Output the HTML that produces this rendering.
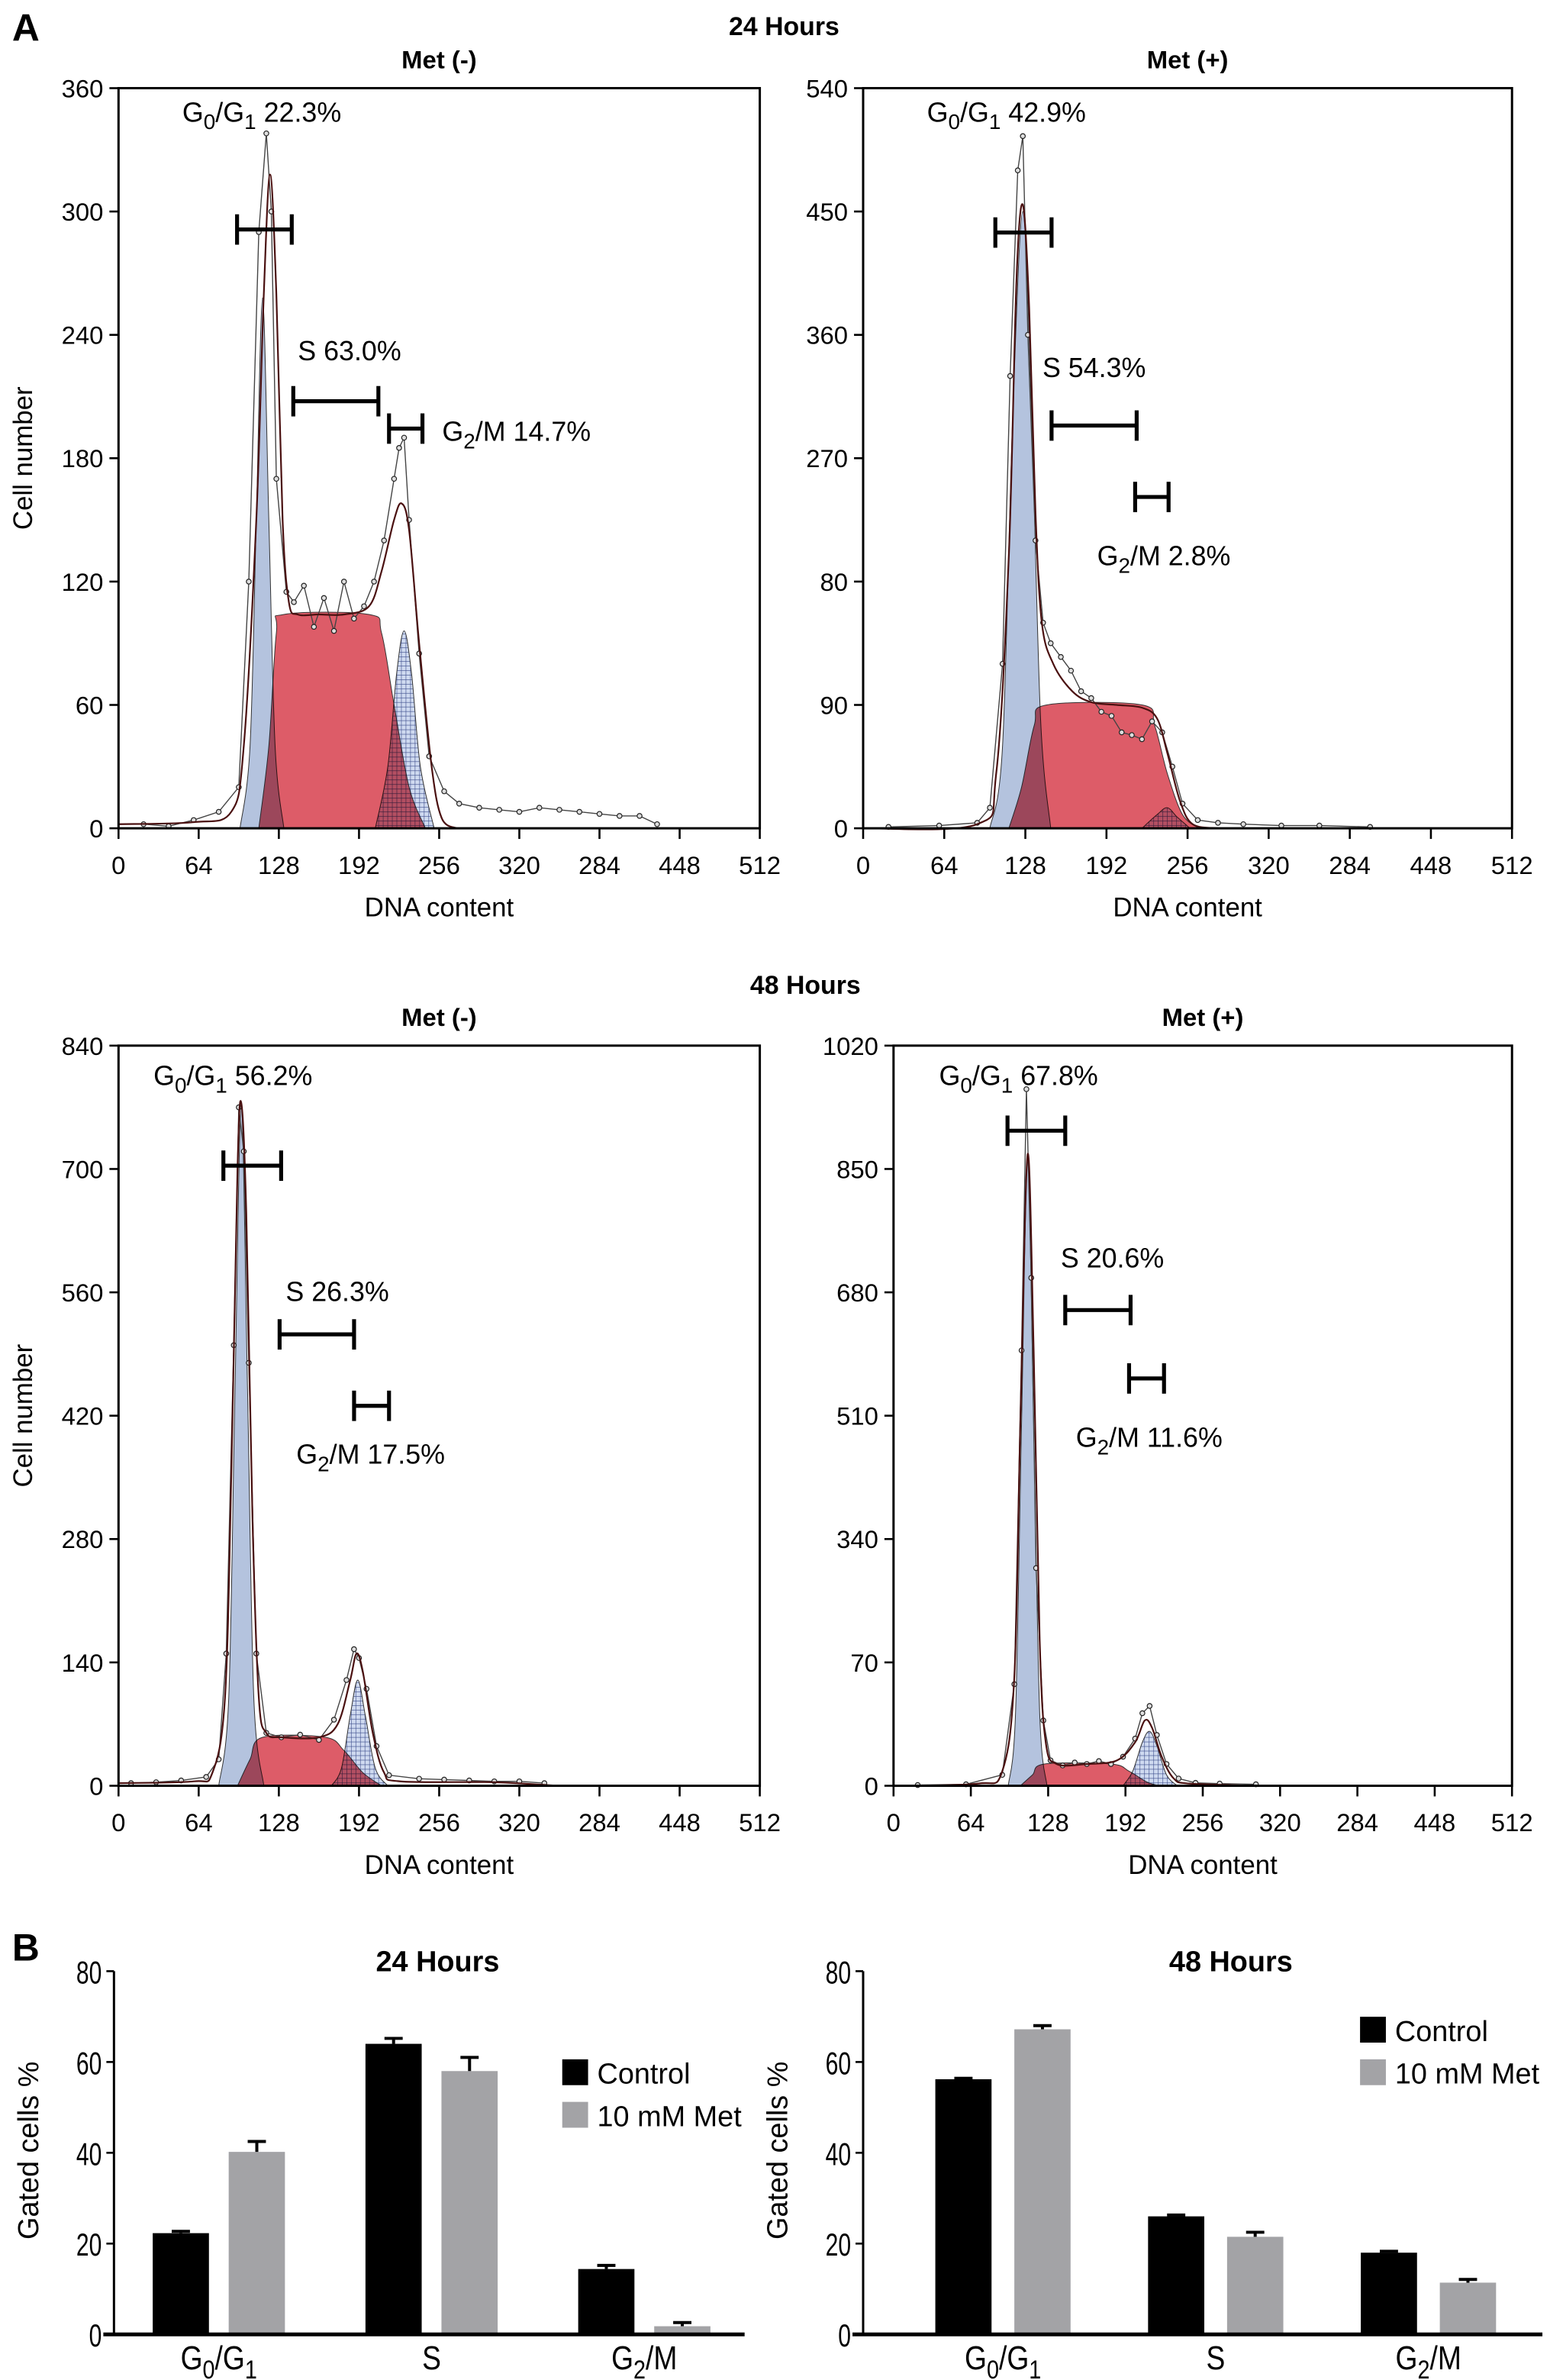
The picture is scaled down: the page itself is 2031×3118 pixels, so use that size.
<!DOCTYPE html>
<html><head><meta charset="utf-8"><style>
html,body{margin:0;padding:0;background:#fff;}
svg{display:block;font-family:"Liberation Sans",sans-serif;}
</style></head><body>
<svg id="fig" xmlns="http://www.w3.org/2000/svg" width="2031" height="3118" viewBox="0 0 1020 1566" preserveAspectRatio="none">
<defs>
<pattern id="hatch" width="3" height="3" patternUnits="userSpaceOnUse"><rect width="3" height="3" fill="#cfdaf0"/><path d="M0 0H3M0 0V3" stroke="#3a4a8a" stroke-width="0.6"/></pattern>
</defs>
<text x="8" y="27" font-size="25" font-weight="bold">A</text>
<text x="516" y="23" font-size="17" font-weight="bold" text-anchor="middle">24 Hours</text>
<text x="530" y="654" font-size="17" font-weight="bold" text-anchor="middle">48 Hours</text>
<text x="8" y="1290" font-size="25" font-weight="bold">B</text>
<g id="root"></g>
</svg>
<script>
// ---- Histogram data (channel, count) ----
const chTicks = ["0","64","128","192","256","320","284","448","512"];
const tlY = [0,60,120,180,240,300,360];
const trYLabels = ["0","90","80","270","360","450","540"];
const blY = [0,140,280,420,560,700,840];
const brYLabels = ["0","70","340","510","680","850","1020"];

const tlTotalCh = [0,60,90,100,110,116,121,126,131,136,143,160,180,200,210,220,226,232,240,250,258,270];
const tlTotal =   [2,3,8,40,150,260,318,260,150,110,104,104,104,108,125,150,158,145,90,30,5,0];
const tlG1Ch = [97,105,110,115,120,125,132];
const tlG1 =   [0,40,150,258,150,40,0];
const tlSCh = [112,120,126,132,200,210,220,232,245];
const tlS =   [0,40,95,104,104,95,60,20,0];
const tlG2Ch = [205,215,222,228,234,241,252];
const tlG2 =   [0,30,75,96,75,30,0];
const tlObsCh = [20,40,60,80,96,104,112,118,122,126,134,140,148,156,164,172,180,188,196,204,212,220,224,228,232,240,248,260,272,288,304,320,336,352,368,384,400,416,430];
const tlObs =   [2,1,4,8,20,120,290,338,300,170,115,110,118,98,112,96,120,102,108,120,140,170,185,190,150,85,35,18,12,10,9,8,10,9,8,7,6,6,2];

const trTotalCh = [0,90,105,115,121,126,131,136,141,150,165,180,200,220,232,240,250,260,280];
const trTotal =   [0,3,40,200,400,455,380,230,150,120,100,92,90,88,80,55,20,3,0];
const trG1Ch = [100,110,118,126,133,140,148];
const trG1 =   [0,60,300,450,300,80,0];
const trSCh = [115,125,135,145,220,230,240,252,265];
const trS =   [0,30,75,90,90,75,40,10,0];
const trG2Ch = [220,232,240,248,258];
const trG2 =   [0,10,15,8,0];
const trObsCh = [20,60,90,100,110,116,122,126,130,136,142,148,156,164,172,180,188,196,204,212,220,228,236,244,252,264,280,300,330,360,400];
const trObs =   [1,2,4,15,120,330,480,505,360,210,150,135,125,115,100,95,85,82,70,68,65,78,70,45,18,6,4,3,2,2,1];

const blTotalCh = [0,60,75,85,90,95,98,102,107,112,118,130,160,175,185,190,195,203,212,225,300,350];
const blTotal =   [3,5,15,100,350,700,775,650,300,100,60,55,55,70,120,150,130,60,15,5,4,0];
const blG1Ch = [80,88,93,98,103,108,116];
const blG1 =   [0,100,450,770,450,100,0];
const blSCh = [95,105,115,165,180,195,210];
const blS =   [0,30,55,55,40,15,0];
const blG2Ch = [170,178,185,191,197,205,215];
const blG2 =   [0,20,80,120,80,20,0];
const blObsCh = [10,30,50,70,80,86,92,96,100,104,110,118,130,145,160,172,182,188,192,198,206,216,240,260,280,300,320,340];
const blObs =   [3,4,6,10,30,150,500,770,720,480,150,60,55,58,52,75,120,155,145,110,45,12,8,7,6,5,5,3];

const brTotalCh = [0,70,90,100,105,111,116,121,126,135,160,185,200,208,214,222,232,245,300];
const brTotal =   [0,3,20,150,500,870,600,200,60,30,30,35,60,90,80,40,10,3,0];
const brG1Ch = [95,101,106,111,116,121,127];
const brG1 =   [0,100,500,860,500,100,0];
const brSCh = [105,115,125,180,195,210,220];
const brS =   [0,15,30,30,20,5,0];
const brG2Ch = [190,198,206,212,218,226,235];
const brG2 =   [0,20,60,75,55,15,0];
const brObsCh = [20,60,90,100,106,110,114,118,124,130,140,150,160,170,180,190,200,206,212,218,226,236,250,270,300];
const brObs =   [1,2,15,140,600,960,700,300,90,35,28,32,30,34,30,40,65,100,110,70,30,10,4,3,2];

// ---- Bar chart data ----
const barCats = ["G0/G1","S","G2/M"];
const bar24Control = [22.3,64,14.4];
const bar24Met = [40.2,58,1.8];
const bar24ControlErr = [0.4,1.2,0.8];
const bar24MetErr = [2.3,3,0.8];
const bar48Control = [56.2,26,18];
const bar48Met = [67.2,21.5,11.4];
const bar48ControlErr = [0.2,0.3,0.3];
const bar48MetErr = [0.8,1,0.7];
const barTicks = [0,20,40,60,80];

const NS = "http://www.w3.org/2000/svg";
const root = document.getElementById('root');
function mk(tag, attrs, parent){const e=document.createElementNS(NS,tag);for(const k in attrs)e.setAttribute(k,attrs[k]);(parent||root).appendChild(e);return e;}
function smooth(pts){
  let d = `L${pts[0][0]} ${pts[0][1]}`;
  for(let i=0;i<pts.length-1;i++){
    const p0=pts[Math.max(0,i-1)],p1=pts[i],p2=pts[i+1],p3=pts[Math.min(pts.length-1,i+2)];
    const c1=[p1[0]+(p2[0]-p0[0])/6, p1[1]+(p2[1]-p0[1])/6];
    const c2=[p2[0]-(p3[0]-p1[0])/6, p2[1]-(p3[1]-p1[1])/6];
    d += `C${c1[0]} ${c1[1]} ${c2[0]} ${c2[1]} ${p2[0]} ${p2[1]}`;
  }
  return d;
}

function histogram(cfg){
  const g = mk('g',{});
  
  
  const {x0,x1,y0,y1,ymax} = cfg;
  const sx = c => x0 + c/512*(x1-x0);
  const sy = v => y1 - v/ymax*(y1-y0);
  function area(chs, vals, fill, nm){
    const pts = chs.map((c,i)=>[sx(c), sy(vals[i])]);
    let d = `M${sx(chs[0])} ${y1}` + smooth(pts) + `L${sx(chs[chs.length-1])} ${y1}Z`;
    const p = mk('path',{d, fill, stroke:'#333','stroke-width':0.5,style:'mix-blend-mode:multiply'}, g);
    
    
  }
  area(cfg.g1Ch, cfg.g1, '#b4c3de', 'g0g1-fit-area');
  area(cfg.sCh, cfg.s, '#dd5c68', 's-phase-fit-area');
  area(cfg.g2Ch, cfg.g2, 'url(#hatch)', 'g2m-fit-area');
  let od = '';
  cfg.obsCh.forEach((c,i)=> od += (i?'L':'M')+sx(c)+' '+sy(cfg.obs[i]));
  const op = mk('path',{d:od,fill:'none',stroke:'#444','stroke-width':0.7}, g);
  
  
  cfg.obsCh.forEach((c,i)=>{
    const dot = mk('circle',{cx:sx(c),cy:sy(cfg.obs[i]),r:1.6,fill:'#ddd',stroke:'#222','stroke-width':0.6}, g);
    
    
  });
  const tpts = cfg.totCh.map((c,i)=>[sx(c), sy(cfg.tot[i])]);
  const td = 'M'+tpts[0][0]+' '+tpts[0][1]+smooth(tpts);
  const tp = mk('path',{d:td,fill:'none',stroke:'#4a1010','stroke-width':1.1}, g);
  
  
  const fr = mk('rect',{x:x0,y:y0,width:x1-x0,height:y1-y0,fill:'none',stroke:'#000','stroke-width':1.5}, g);
  
  
  cfg.yLabels.forEach((lab,i)=>{
    const y = y1 - i/(cfg.yLabels.length-1)*(y1-y0);
    mk('line',{x1:x0-6,x2:x0,y1:y,y2:y,stroke:'#000','stroke-width':1.3}, g);
    const t = mk('text',{x:x0-10,y:y+6,'font-size':16.5,'text-anchor':'end'}, g);
    t.textContent = lab;
    
    
  });
  chTicks.forEach((lab,i)=>{
    const x = x0 + i/8*(x1-x0);
    mk('line',{x1:x,x2:x,y1:y1,y2:y1+7,stroke:'#000','stroke-width':1.3}, g);
    const t = mk('text',{x:x,y:y1+30,'font-size':16.5,'text-anchor':'middle'}, g);
    t.textContent = lab;
    
    
  });
  const xt = mk('text',{x:(x0+x1)/2,y:y1+58,'font-size':17.5,'text-anchor':'middle'}, g);
  xt.textContent = 'DNA content';
  
  
  const tt = mk('text',{x:(x0+x1)/2,y:y0-13,'font-size':16.5,'font-weight':'bold','text-anchor':'middle'}, g);
  tt.textContent = cfg.title;
  
  
  if(cfg.yTitle){
    const yt = mk('text',{x:0,y:0,'font-size':17.5,'text-anchor':'middle',transform:`translate(21 ${(y0+y1)/2}) rotate(-90)`}, g);
    yt.textContent = 'Cell number';
    
    
  }
  cfg.brackets.forEach(b=>{
    const bg = mk('g',{stroke:'#000','stroke-width':2.6}, g);
    
    
    mk('line',{x1:b[0],x2:b[1],y1:b[2],y2:b[2]}, bg);
    mk('line',{x1:b[0],x2:b[0],y1:b[2]-10,y2:b[2]+10}, bg);
    mk('line',{x1:b[1],x2:b[1],y1:b[2]-10,y2:b[2]+10}, bg);
  });
  cfg.labels.forEach(l=>{
    const t = mk('text',{x:l[0],y:l[1],'font-size':18}, g);
    t.innerHTML = l[2];
    
    
  });
}
const sub0 = '<tspan dy="5" font-size="14">0</tspan><tspan dy="-5">/G</tspan><tspan dy="5" font-size="14">1</tspan><tspan dy="-5">';
histogram({name:'histogram-24h-met-minus',x0:78,x1:500,y0:58,y1:545,ymax:360,yLabels:tlY.map(String),title:'Met (-)',yTitle:true,
  totCh:tlTotalCh,tot:tlTotal,g1Ch:tlG1Ch,g1:tlG1,sCh:tlSCh,s:tlS,g2Ch:tlG2Ch,g2:tlG2,obsCh:tlObsCh,obs:tlObs,
  brackets:[[156,192,151],[193,249,264],[256,278,282]],
  labels:[[120,80,'G'+sub0+' 22.3%</tspan>'],[196,237,'S 63.0%'],[291,290,'G<tspan dy="5" font-size="14">2</tspan><tspan dy="-5">/M 14.7%</tspan>']]});
histogram({name:'histogram-24h-met-plus',x0:568,x1:995,y0:58,y1:545,ymax:540,yLabels:trYLabels,title:'Met (+)',
  totCh:trTotalCh,tot:trTotal,g1Ch:trG1Ch,g1:trG1,sCh:trSCh,s:trS,g2Ch:trG2Ch,g2:trG2,obsCh:trObsCh,obs:trObs,
  brackets:[[655,692,153],[692,748,280],[747,769,327]],
  labels:[[610,80,'G'+sub0+' 42.9%</tspan>'],[686,248,'S 54.3%'],[722,372,'G<tspan dy="5" font-size="14">2</tspan><tspan dy="-5">/M 2.8%</tspan>']]});
histogram({name:'histogram-48h-met-minus',x0:78,x1:500,y0:688,y1:1175,ymax:840,yLabels:blY.map(String),title:'Met (-)',yTitle:true,
  totCh:blTotalCh,tot:blTotal,g1Ch:blG1Ch,g1:blG1,sCh:blSCh,s:blS,g2Ch:blG2Ch,g2:blG2,obsCh:blObsCh,obs:blObs,
  brackets:[[147,185,767],[184,233,878],[233,256,925]],
  labels:[[101,714,'G'+sub0+' 56.2%</tspan>'],[188,856,'S 26.3%'],[195,963,'G<tspan dy="5" font-size="14">2</tspan><tspan dy="-5">/M 17.5%</tspan>']]});
histogram({name:'histogram-48h-met-plus',x0:588,x1:995,y0:688,y1:1175,ymax:1020,yLabels:brYLabels,title:'Met (+)',
  totCh:brTotalCh,tot:brTotal,g1Ch:brG1Ch,g1:brG1,sCh:brSCh,s:brS,g2Ch:brG2Ch,g2:brG2,obsCh:brObsCh,obs:brObs,
  brackets:[[663,701,744],[701,744,862],[743,766,907]],
  labels:[[618,714,'G'+sub0+' 67.8%</tspan>'],[698,834,'S 20.6%'],[708,952,'G<tspan dy="5" font-size="14">2</tspan><tspan dy="-5">/M 11.6%</tspan>']]});

function barChart(cfg){
  const g = mk('g',{'font-family':'"Liberation Sans Narrow","Liberation Sans",sans-serif'});
  
  
  const y0=1297, y1=1536;
  const sy = v => y1 - v/80*(y1-y0);
  const ax = mk('line',{x1:cfg.ax,x2:cfg.ax,y1:y0,y2:y1,stroke:'#000','stroke-width':1.5}, g);
  
  
  barTicks.forEach(v=>{
    mk('line',{x1:cfg.ax-5,x2:cfg.ax,y1:sy(v),y2:sy(v),stroke:'#000','stroke-width':1.3}, g);
    const t = mk('text',{x:cfg.ax-8,y:sy(v)+8,'font-size':21,'text-anchor':'end',transform:`translate(${cfg.ax-8} ${sy(v)}) scale(0.72 1) translate(${-(cfg.ax-8)} ${-sy(v)})`}, g);
    t.textContent = v;
    
    
  });
  cfg.cats.forEach((c,i)=>{
    const cx = cfg.cx0 + i*cfg.step;
    [[cfg.ctrl,cfg.ctrlErr,'#000',-1],[cfg.met,cfg.metErr,'#a3a3a6',1]].forEach(([vals,errs,col,side])=>{
      const bx = side<0 ? cx-cfg.gap/2-cfg.bw : cx+cfg.gap/2;
      const top = sy(vals[i]);
      const r = mk('rect',{x:bx,y:top,width:cfg.bw,height:y1-top,fill:col}, g);
      
      
      const et = sy(vals[i]+errs[i]);
      const eb = mk('path',{d:`M${bx+cfg.bw/2} ${top}V${et}M${bx+cfg.bw/2-6} ${et}H${bx+cfg.bw/2+6}`,stroke:'#000','stroke-width':2,fill:'none'}, g);
      
      
    });
    const t = mk('text',{x:cx,y:1559,'font-size':22,'text-anchor':'middle',transform:`translate(${cx} 0) scale(0.85 1) translate(${-cx} 0)`}, g);
    t.innerHTML = c==='G0/G1' ? 'G<tspan dy="6" font-size="17">0</tspan><tspan dy="-6">/G</tspan><tspan dy="6" font-size="17">1</tspan>' : c==='G2/M' ? 'G<tspan dy="6" font-size="17">2</tspan><tspan dy="-6">/M</tspan>' : c;
    
    
  });
  const xa = mk('line',{x1:cfg.ax-7,x2:cfg.xend,y1:y1,y2:y1,stroke:'#000','stroke-width':2.5}, g);
  
  
  const tt = mk('text',{x:cfg.tx,y:1297,'font-size':19,'font-weight':'bold','text-anchor':'middle'}, g);
  tt.textContent = cfg.title;
  
  
  const yt = mk('text',{x:0,y:0,'font-size':19,'text-anchor':'middle','font-family':'"Liberation Sans",sans-serif',transform:`translate(${cfg.ax-50} 1415) rotate(-90)`}, g);
  yt.textContent = 'Gated cells %';
  
  
  [['Control','#000',cfg.ly],['10 mM Met','#a3a3a6',cfg.ly+28]].forEach(([lab,col,y])=>{
    const lg = mk('g',{}, g);
    
    
    mk('rect',{x:cfg.lx,y:y,width:17,height:17,fill:col}, lg);
    const t = mk('text',{x:cfg.lx+23,y:y+16,'font-size':19}, lg);
    t.textContent = lab;
  });
}
barChart({name:'bar-chart-24h',ax:75,xend:490,cx0:144,step:140,bw:37,gap:13,cats:barCats,ctrl:bar24Control,met:bar24Met,ctrlErr:bar24ControlErr,metErr:bar24MetErr,title:'24 Hours',tx:288,lx:370,ly:1355});
barChart({name:'bar-chart-48h',ax:568,xend:1015,cx0:660,step:140,bw:37,gap:15,cats:barCats,ctrl:bar48Control,met:bar48Met,ctrlErr:bar48ControlErr,metErr:bar48MetErr,title:'48 Hours',tx:810,lx:895,ly:1327});
</script>
</body></html>
